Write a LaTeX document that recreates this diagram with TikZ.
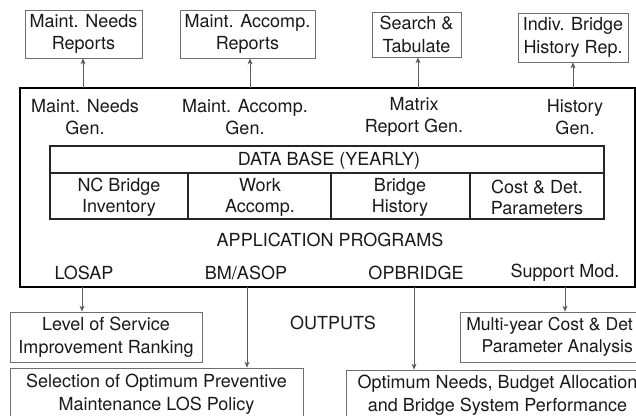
\documentclass[tikz,border=0pt]{standalone}
\usepackage{fontspec}
\setmainfont{TeX Gyre Heros}
\usetikzlibrary{arrows.meta}
\definecolor{txt}{HTML}{1A1A1A}
\definecolor{boxgray}{HTML}{6E6E6E}
\definecolor{arrgray}{HTML}{5A5A5A}
\begin{document}
\begin{tikzpicture}[x=1pt,y=-1pt,
  txtfont/.style={font=\fontsize{18}{22.5}\selectfont},
  box/.style={draw=boxgray, line width=0.8pt, inner sep=0pt, align=center, text=txt, txtfont},
  lbl/.style={align=center, text=txt, inner sep=0pt, txtfont},
  cell/.style={align=center, text=txt, inner sep=0pt, font=\fontsize{18}{21}\selectfont},
  arr/.style={draw=arrgray, line width=0.8pt, -{Stealth[length=6pt,width=5pt]}},
  dbline/.style={draw=black!85, line width=1.2pt}]
\useasboundingbox (0,0) rectangle (636,415);
\fill[white] (0,0) rectangle (636,415);
\clip (0,0) rectangle (636,415);

% top report boxes
\node[box, minimum width=117pt, minimum height=48pt] (r1) at (83.5,34) {Maint. Needs\\Reports};
\node[box, minimum width=135pt, minimum height=48pt] (r2) at (247.5,34) {Maint. Accomp.\\Reports};
\node[box, minimum width=89pt, minimum height=45pt] (r3) at (416.5,34.5) {Search \&\\Tabulate};
\node[box, minimum width=110pt, minimum height=49pt] (r4) at (573,37.5) {Indiv. Bridge\\History Rep.};

% main box
\node[draw=black, line width=1.6pt, minimum width=615pt, minimum height=199pt, inner sep=0pt] (main) at (327.5,187.5) {};

% generator labels
\node[lbl] (g1) at (85,117) {Maint. Needs\\Gen.};
\node[lbl] (g2) at (245,117) {Maint. Accomp.\\Gen.};
\node[lbl] (g3) at (414,117) {Matrix\\Report Gen.};
\node[lbl] (g4) at (575,117) {History\\Gen.};

% data base table
\node[draw=black!85, line width=1.2pt, minimum width=554pt, minimum height=73pt, inner sep=0pt] (db) at (327,182.5) {};
\draw[dbline] (50,173) -- (604,173);
\draw[dbline] (188,173) -- (188,219);
\draw[dbline] (331,173) -- (331,219);
\draw[dbline] (470,173) -- (470,219);
\node[lbl] (dbt) at (329,161) {DATA BASE (YEARLY)};
\node[cell] (c1) at (119,197) {NC Bridge\\Inventory};
\node[cell] (c2) at (260,197) {Work\\Accomp.};
\node[cell] (c3) at (400,197) {Bridge\\History};
\node[cell] (c4) at (537,197) {Cost \& Det.\\Parameters};

\node[lbl] (app) at (330,240) {APPLICATION PROGRAMS};

% program labels
\node[lbl] (p1) at (84,273) {LOSAP};
\node[lbl] (p2) at (246,273) {BM/ASOP};
\node[lbl] (p3) at (416,273) {OPBRIDGE};
\node[lbl] (p4) at (565,273) {Support Mod.};

\node[lbl] (out) at (333,323) {OUTPUTS};

% output boxes
\node[box, minimum width=192pt, minimum height=50pt] (o1) at (106,337) {Level of Service\\Improvement Ranking};
\node[box, minimum width=293pt, minimum height=52pt] (o2) at (156.5,394) {Selection of Optimum Preventive\\Maintenance LOS Policy};
\node[box, minimum width=189pt, minimum height=50pt] (o4) at (554.5,337) {};
\node[lbl, align=right, anchor=east, font=\fontsize{17.6}{22.5}\selectfont] (o4t) at (633,337) {Multi-year Cost \& Det\\Parameter Analysis};
\node[box, minimum width=303pt, minimum height=50pt] (o3) at (497.5,395) {Optimum Needs, Budget Allocation\\and Bridge System Performance};

% arrows up
\coordinate (a1) at (83,88);
\coordinate (a2) at (250,88);
\coordinate (a3) at (418,88);
\coordinate (a4) at (573,88);
\draw[arr] (a1) -- (a1 |- r1.south);
\draw[arr] (a2) -- (a2 |- r2.south);
\draw[arr] (a3) -- (a3 |- r3.south);
\draw[arr] (a4) -- (a4 |- r4.south);

% arrows down
\coordinate (b1) at (82,287);
\coordinate (b2) at (247,287);
\coordinate (b3) at (414,287);
\coordinate (b4) at (565,287);
\draw[arr] (b1) -- (b1 |- o1.north);
\draw[arr] (b2) -- (b2 |- o2.north);
\draw[arr] (b3) -- (b3 |- o3.north);
\draw[arr] (b4) -- (b4 |- o4.north);
\end{tikzpicture}
\end{document}
